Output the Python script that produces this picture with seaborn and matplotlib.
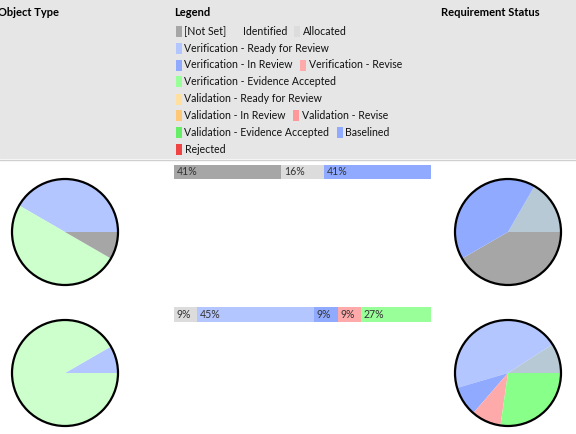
import math
import matplotlib
matplotlib.use("Agg")
import matplotlib.pyplot as plt
from matplotlib.patches import Rectangle, Circle
import seaborn as sns

sns.set_theme(style="white")
plt.rcParams['font.family'] = ['Lato', 'DejaVu Sans']

W, H = 576, 434
FS = 7.6

# status colours (legend / bars)
status_colors = {
    "[Not Set]": "#a6a6a6",
    "Identified": "#e6e6e6",
    "Allocated": "#dcdcdc",
    "Verification - Ready for Review": "#b4c6ff",
    "Verification - In Review": "#8faaff",
    "Verification - Revise": "#ffaaaa",
    "Verification - Evidence Accepted": "#99ff99",
    "Validation - Ready for Review": "#ffe0a0",
    "Validation - In Review": "#ffc878",
    "Validation - Revise": "#ff9999",
    "Validation - Evidence Accepted": "#66ee66",
    "Baselined": "#8faaff",
    "Rejected": "#ee4444",
}
legend_rows = [
    ["[Not Set]", "Identified", "Allocated"],
    ["Verification - Ready for Review"],
    ["Verification - In Review", "Verification - Revise"],
    ["Verification - Evidence Accepted"],
    ["Validation - Ready for Review"],
    ["Validation - In Review", "Validation - Revise"],
    ["Validation - Evidence Accepted", "Baselined"],
    ["Rejected"],
]

# requirement status per row
row1_status = ["[Not Set]", "Allocated", "Baselined"]
row1_counts = [5, 2, 5]
row2_status = ["Allocated", "Verification - Ready for Review", "Verification - In Review",
               "Verification - Revise", "Verification - Evidence Accepted"]
row2_counts = [1, 5, 1, 1, 3]

# pie colours for status (slightly different shade for Allocated in pies)
pie_status_colors = dict(status_colors)
pie_status_colors["Allocated"] = "#b6c9d5"
pie_status_colors["Verification - Evidence Accepted"] = "#88ff88"
pie_start = [210, 0]

# object types per row
object_types = ["Requirement", "Function", "[Not Set]"]
object_colors = ["#b4c6ff", "#ccffcc", "#a6a6a6"]
row1_obj_counts = [5, 6, 1]
row2_obj_counts = [1, 11, 0]


def px(x0, y0, w, h):
    return [x0 / W, 1 - (y0 + h) / H, w / W, h / H]


fig = plt.figure(figsize=(W / 100, H / 100), dpi=100)
bg = fig.add_axes([0, 0, 1, 1])
bg.set_xlim(0, W)
bg.set_ylim(H, 0)
bg.axis('off')
bg.add_patch(Rectangle((0, 0), W, 159, color="#e6e6e6", lw=0))
bg.plot([0, W], [159.5, 159.5], color="#cfcfcf", lw=1)

for x, t in [(-1.5, "Object Type"), (174, "Legend"), (441, "Requirement Status")]:
    bg.text(x, 12, t, fontsize=FS + 0.4, fontweight='bold', va='center', ha='left', color='black')

renderer = fig.canvas.get_renderer()
row_y = [31.5, 48.3, 65, 81.8, 99, 115.8, 132.4, 149.3]
for y, items in zip(row_y, legend_rows):
    x = 175.5
    for name in items:
        bg.add_patch(Rectangle((x, y - 5.5), 6, 11, color=status_colors[name], lw=0))
        t = bg.text(x + 9, y, name, fontsize=FS, va='center', ha='left', color='#111111')
        ext = t.get_window_extent(renderer)
        x = ext.x1 + 7

# stacked bars
for (y0, names, counts) in [(164.5, row1_status, row1_counts), (307, row2_status, row2_counts)]:
    ax = fig.add_axes(px(174, y0, 257, 14.5))
    total = sum(counts)
    left = 0
    for n, c in zip(names, counts):
        pct = c / total * 100
        ax.barh(0, pct, left=left, height=1, color=status_colors[n], lw=0)
        ax.annotate(f"{math.floor(pct)}%", (left, 0), xytext=(2, 0), textcoords='offset points',
                    fontsize=FS, va='center', ha='left', color='#333333')
        left += pct
    ax.set_xlim(0, 100)
    ax.set_ylim(-0.5, 0.5)
    ax.axis('off')

# pies
R = 53
for cy, names, counts, start in [(232, row1_status, row1_counts, pie_start[0]),
                                 (373, row2_status, row2_counts, pie_start[1])]:
    ax = fig.add_axes(px(508 - R * 1.05, cy - R * 1.05, 2.1 * R, 2.1 * R))
    ax.pie(counts, colors=[pie_status_colors[n] for n in names], startangle=start,
           counterclock=True, radius=1, wedgeprops=dict(lw=0))
    ax.add_patch(Circle((0, 0), 1, fill=False, ec='black', lw=1.6))
    ax.set_xlim(-1.05, 1.05)
    ax.set_ylim(-1.05, 1.05)
    ax.set_aspect('equal')
    ax.axis('off')

for cy, counts in [(232, row1_obj_counts), (373, row2_obj_counts)]:
    ax = fig.add_axes(px(65 - R * 1.05, cy - R * 1.05, 2.1 * R, 2.1 * R))
    ax.pie(counts, colors=object_colors, startangle=0, counterclock=True,
           radius=1, wedgeprops=dict(lw=0))
    ax.add_patch(Circle((0, 0), 1, fill=False, ec='black', lw=1.6))
    ax.set_xlim(-1.05, 1.05)
    ax.set_ylim(-1.05, 1.05)
    ax.set_aspect('equal')
    ax.axis('off')

fig.savefig("out.png", dpi=100)
